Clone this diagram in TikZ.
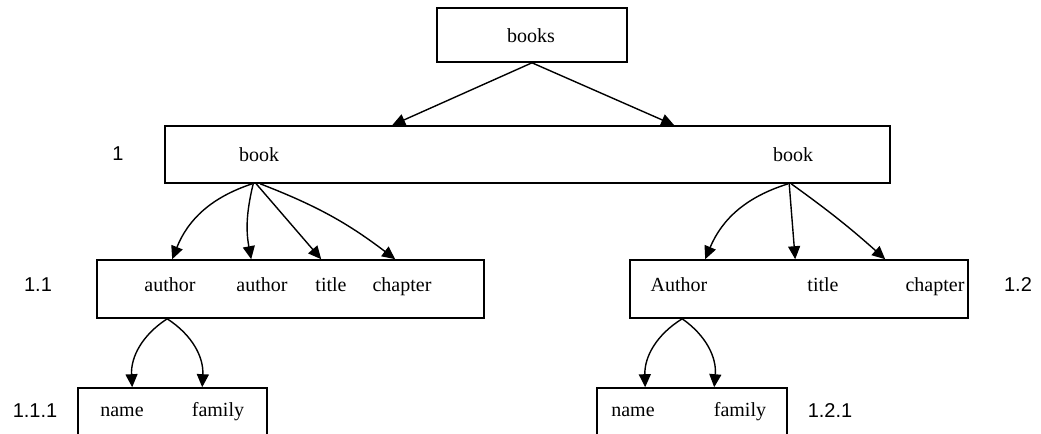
\documentclass[tikz,border=0pt]{standalone}
\usepackage{fontspec}
\setmainfont{Liberation Serif}
\setsansfont{Liberation Sans}
\usetikzlibrary{positioning,arrows.meta,calc}

\begin{document}
\begin{tikzpicture}[x=0.5pt,y=-0.5pt,
    box/.style={draw, line width=0.8pt, inner sep=0pt},
    word/.style={font=\rmfamily\fontsize{10}{12}\selectfont, inner sep=0pt, anchor=base},
    num/.style={font=\sffamily\fontsize{10}{12}\selectfont, inner sep=0pt, anchor=base},
    link/.style={-{Triangle[length=6.5pt,width=6pt]}, line width=0.7pt}]
  \clip (0,0) rectangle (1041,434);
  % boxes
  \node[box, minimum width=95pt, minimum height=27pt] (books) at (532,35) {};
  \node[box, minimum width=362.5pt, minimum height=28.5pt] (book) at (527.5,154.5) {};
  \node[box, minimum width=193.5pt, minimum height=29pt] (b11) at (290.5,289) {};
  \node[box, minimum width=169pt, minimum height=29pt] (b12) at (799,289) {};
  \node[box, minimum width=94.5pt, minimum height=28.5pt] (b111) at (172.5,416.5) {};
  \node[box, minimum width=95pt, minimum height=28.5pt] (b121) at (692,416.5) {};
  % texts
  \node[word] (booksT) at (531,42) {books};
  \node[word] (bookA) at (259,161) {book};
  \node[word] (bookB) at (793,161) {book};
  \node[word] (authA) at (170,291) {author};
  \node[word] (authB) at (262,291) {author};
  \node[word] (titleA) at (331,291) {title};
  \node[word] (chapA) at (402,291) {chapter};
  \node[word] (authC) at (679,291) {Author};
  \node[word] (titleB) at (823,291) {title};
  \node[word] (chapB) at (935,291) {chapter};
  \node[word] (nameA) at (122,416) {name};
  \node[word] (famA) at (218,416) {family};
  \node[word] (nameB) at (633,416) {name};
  \node[word] (famB) at (740,416) {family};
  % numbers
  \node[num] (n1) at (118,160) {1};
  \node[num] (n11) at (38,291) {1.1};
  \node[num] (n12) at (1018,291) {1.2};
  \node[num] (n111) at (35,417) {1.1.1};
  \node[num] (n121) at (830,417) {1.2.1};
  % arrows
  \draw[link] (books.south) -- ($(book.north west)+(228,0)$);
  \draw[link] (books.south) -- ($(book.north west)+(510,0)$);
  \draw[link] ($(book.south west)+(88,0)$) to[bend right=25] ($(b11.north west)+(76,0)$);
  \draw[link] ($(book.south west)+(89,0)$) to[bend right=12] ($(b11.north west)+(155,0)$);
  \draw[link] ($(book.south west)+(92,0)$) -- ($(b11.north west)+(225,0)$);
  \draw[link] ($(book.south west)+(96,0)$) to[bend left=8] ($(b11.north west)+(299,0)$);
  \draw[link] ($(book.south west)+(624,0)$) to[bend right=25] ($(b12.north west)+(76,0)$);
  \draw[link] ($(book.south west)+(625,0)$) -- ($(b12.north west)+(166,0)$);
  \draw[link] ($(book.south west)+(627,0)$) to[bend left=3] ($(b12.north west)+(256,0)$);
  \draw[link] ($(b11.south west)+(71,0)$) to[bend right=30] ($(b111.north west)+(55,0)$);
  \draw[link] ($(b11.south west)+(71,0)$) to[bend left=30] ($(b111.north west)+(125,0)$);
  \draw[link] ($(b12.south west)+(53,0)$) to[bend right=30] ($(b121.north west)+(49,0)$);
  \draw[link] ($(b12.south west)+(53,0)$) to[bend left=30] ($(b121.north west)+(118,0)$);
\end{tikzpicture}
\end{document}
